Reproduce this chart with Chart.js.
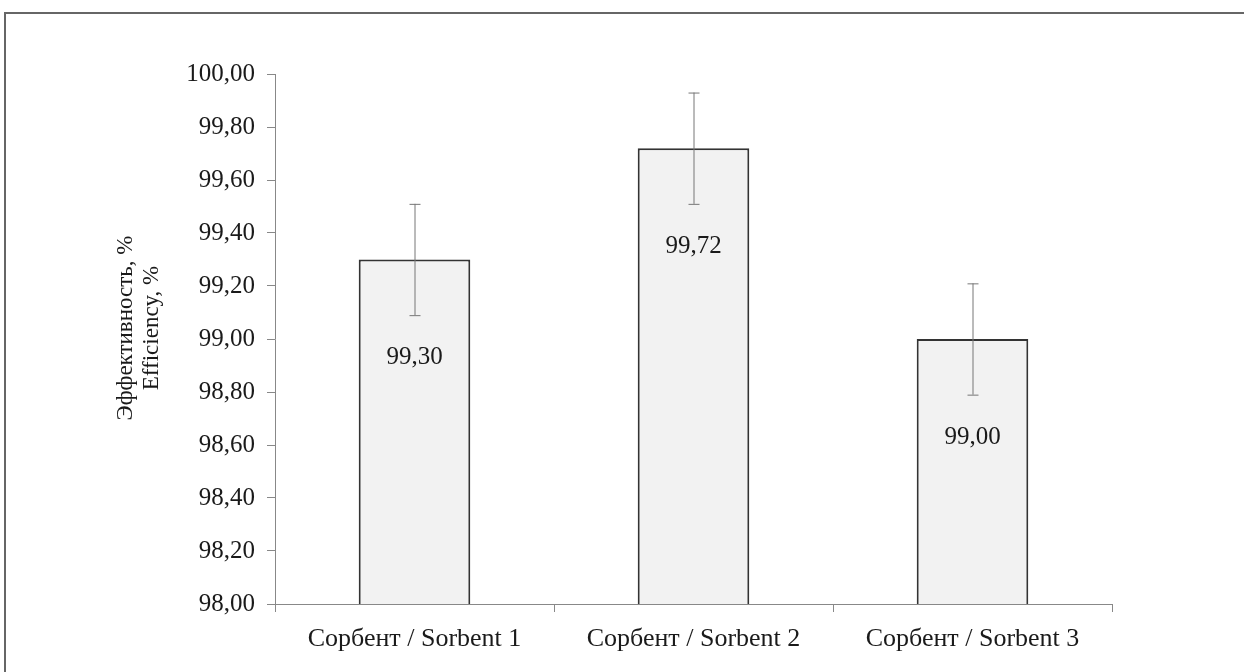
<!DOCTYPE html>
<html>
<head>
<meta charset="utf-8">
<script src="https://cdn.jsdelivr.net/npm/chart.js@4"></script>
<style>
  html, body { margin: 0; padding: 0; background: #fff; }
  #wrap { position: relative; width: 1244px; height: 672px; overflow: hidden; }
  #frame { position: absolute; left: 4px; top: 12px; width: 1300px; height: 700px; border: 2px solid #666; box-sizing: border-box; }
  canvas { position: absolute; left: 0; top: 0; }
</style>
</head>
<body>
<div id="wrap">
  <div id="frame"></div>
  <canvas id="myChart" width="1244" height="672"></canvas>
</div>
<script>
'use strict';

let sorbents = ['Сорбент / Sorbent 1', 'Сорбент / Sorbent 2', 'Сорбент / Sorbent 3'];
let efficiency = [99.30, 99.72, 99.00];
let errors = [0.21, 0.21, 0.21];
let yMin = 98;
let yMax = 100;
let yStep = 0.2;
let yTitle = ['Эффективность, %', 'Efficiency, %'];

let serif = '"Liberation Serif", "Times New Roman", serif';

function fmt(v){
    return v.toFixed(2).replace('.', ',');
}

// error bars + labels inside the bars
let extras = {
    id: 'extras',
    afterDatasetsDraw(chart){
        let ctx = chart.ctx;
        let y = chart.scales.y;
        let meta = chart.getDatasetMeta(0);
        ctx.save();
        for (let i = 0; i < efficiency.length; i++){
            let bar = meta.data[i];
            let top = y.getPixelForValue(efficiency[i] + errors[i]);
            let bot = y.getPixelForValue(efficiency[i] - errors[i]);
            ctx.strokeStyle = '#777';
            ctx.lineWidth = 1;
            ctx.beginPath();
            ctx.moveTo(bar.x + 0.5, top);
            ctx.lineTo(bar.x + 0.5, bot);
            ctx.moveTo(bar.x - 5, top + 0.5);
            ctx.lineTo(bar.x + 6, top + 0.5);
            ctx.moveTo(bar.x - 5, bot + 0.5);
            ctx.lineTo(bar.x + 6, bot + 0.5);
            ctx.stroke();

            ctx.fillStyle = '#1a1a1a';
            ctx.font = '25px ' + serif;
            ctx.textAlign = 'center';
            ctx.textBaseline = 'middle';
            ctx.fillText(fmt(efficiency[i]), bar.x, bar.y + 98);
        }
        // axis title, two rotated lines
        ctx.translate(139, 328);
        ctx.rotate(-Math.PI / 2);
        ctx.font = '23px ' + serif;
        ctx.fillStyle = '#1a1a1a';
        ctx.fillText(yTitle[0], 0, -13);
        ctx.fillText(yTitle[1], 0, 13);
        ctx.restore();
    }
};

let ctx = document.getElementById('myChart').getContext('2d');
let myChart = new Chart(ctx, {
    type: 'bar',
    data: {
        labels: sorbents,
        datasets: [{
            data: efficiency,
            backgroundColor: '#f2f2f2',
            borderColor: '#333',
            borderWidth: 2,
            borderSkipped: false,
            categoryPercentage: 1,
            barPercentage: 0.4
        }]
    },
    options: {
        responsive: false,
        animation: false,
        layout: { padding: { left: 0, right: 132, top: 74, bottom: 14 } },
        plugins: { legend: { display: false }, tooltip: { enabled: false } },
        scales: {
            x: {
                grid: { offset: true, drawOnChartArea: false, tickLength: 8, color: '#888' },
                border: { color: '#888', width: 1 },
                ticks: { font: { family: serif, size: 26 }, color: '#1a1a1a', padding: 12 },
                afterFit(scale){ scale.height = 54; }
            },
            y: {
                min: yMin,
                max: yMax,
                grid: { drawOnChartArea: false, tickLength: 8, color: '#888' },
                border: { color: '#888', width: 1 },
                ticks: {
                    stepSize: yStep,
                    font: { family: serif, size: 25 },
                    color: '#1a1a1a',
                    padding: 12,
                    callback: function(v){ return fmt(v); }
                },
                afterFit(scale){ scale.width = 275; }
            }
        }
    },
    plugins: [extras]
});
</script>
</body>
</html>
